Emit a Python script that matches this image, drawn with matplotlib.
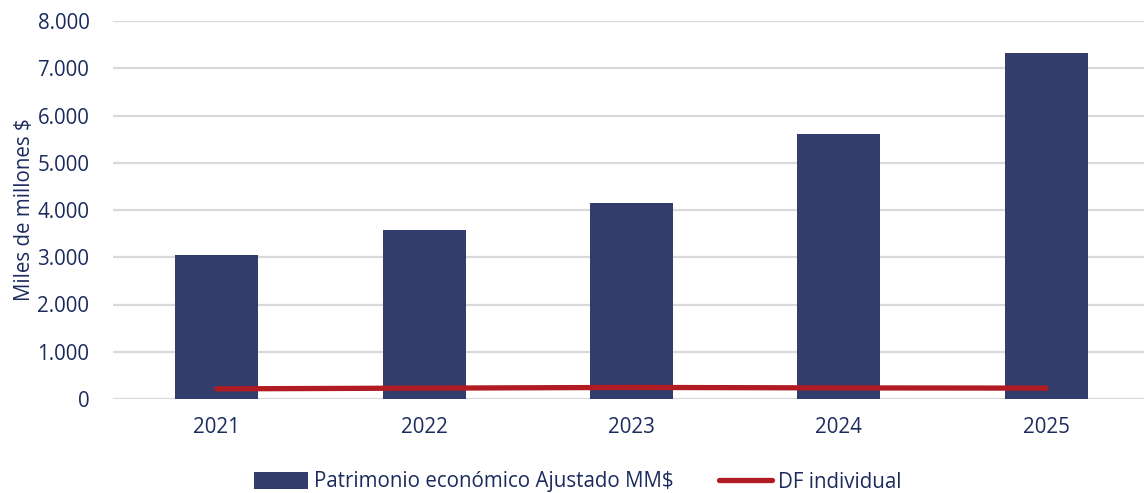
import matplotlib
matplotlib.use("Agg")
import matplotlib.pyplot as plt
from matplotlib.ticker import FuncFormatter
from matplotlib.lines import Line2D
from matplotlib.patches import Patch

years = ["2021", "2022", "2023", "2024", "2025"]
patrimonio = [3040, 3580, 4140, 5600, 7330]
df_individual = [215, 230, 245, 235, 230]
yticks = [0, 1000, 2000, 3000, 4000, 5000, 6000, 7000, 8000]

navy = "#333D6B"
red = "#B01C22"
txt = "#1C2B5E"

plt.rcParams['font.family'] = ['Open Sans', 'DejaVu Sans']

fig = plt.figure(figsize=(11.44, 4.93), dpi=100)
ax = fig.add_axes([113/1144, 94/493, (1144-113)/1144, (399-21)/493])

x = list(range(len(years)))
ax.bar(x, patrimonio, width=0.40, color=navy, zorder=2)
ax.plot(x, df_individual, color=red, linewidth=3.8, solid_capstyle='round', zorder=3)

ax.set_xlim(-0.5, 4.472)
ax.set_ylim(0, 8000)
ax.set_yticks(yticks)
ax.yaxis.set_major_formatter(FuncFormatter(lambda v, p: f"{int(v):,}".replace(",", ".")))
ax.set_xticks(x)
ax.set_xticklabels(years)
ax.grid(axis='y', color='#D9D9D9', linewidth=1.6, zorder=0)
ax.set_axisbelow(True)
for s in ax.spines.values():
    s.set_visible(False)
ax.tick_params(axis='both', length=0, labelsize=14.8, colors=txt)
ax.tick_params(axis='y', pad=17)
ax.tick_params(axis='x', pad=13)
ax.set_ylabel("Miles de millones $", fontsize=14.8, color=txt, labelpad=2)

handles = [Patch(facecolor=navy, edgecolor='none'),
           Line2D([0], [0], color=red, linewidth=3.8, solid_capstyle='round')]
labels = ["Patrimonio económico Ajustado MM$", "DF individual"]
fig.legend(handles, labels, loc='center', bbox_to_anchor=(578/1144, 1-482/493),
           ncol=2, frameon=False, fontsize=14.8, labelcolor=txt,
           handlelength=2.6, handleheight=0.9, handletextpad=0.3, columnspacing=2.2)

fig.savefig("out.png", dpi=100)
